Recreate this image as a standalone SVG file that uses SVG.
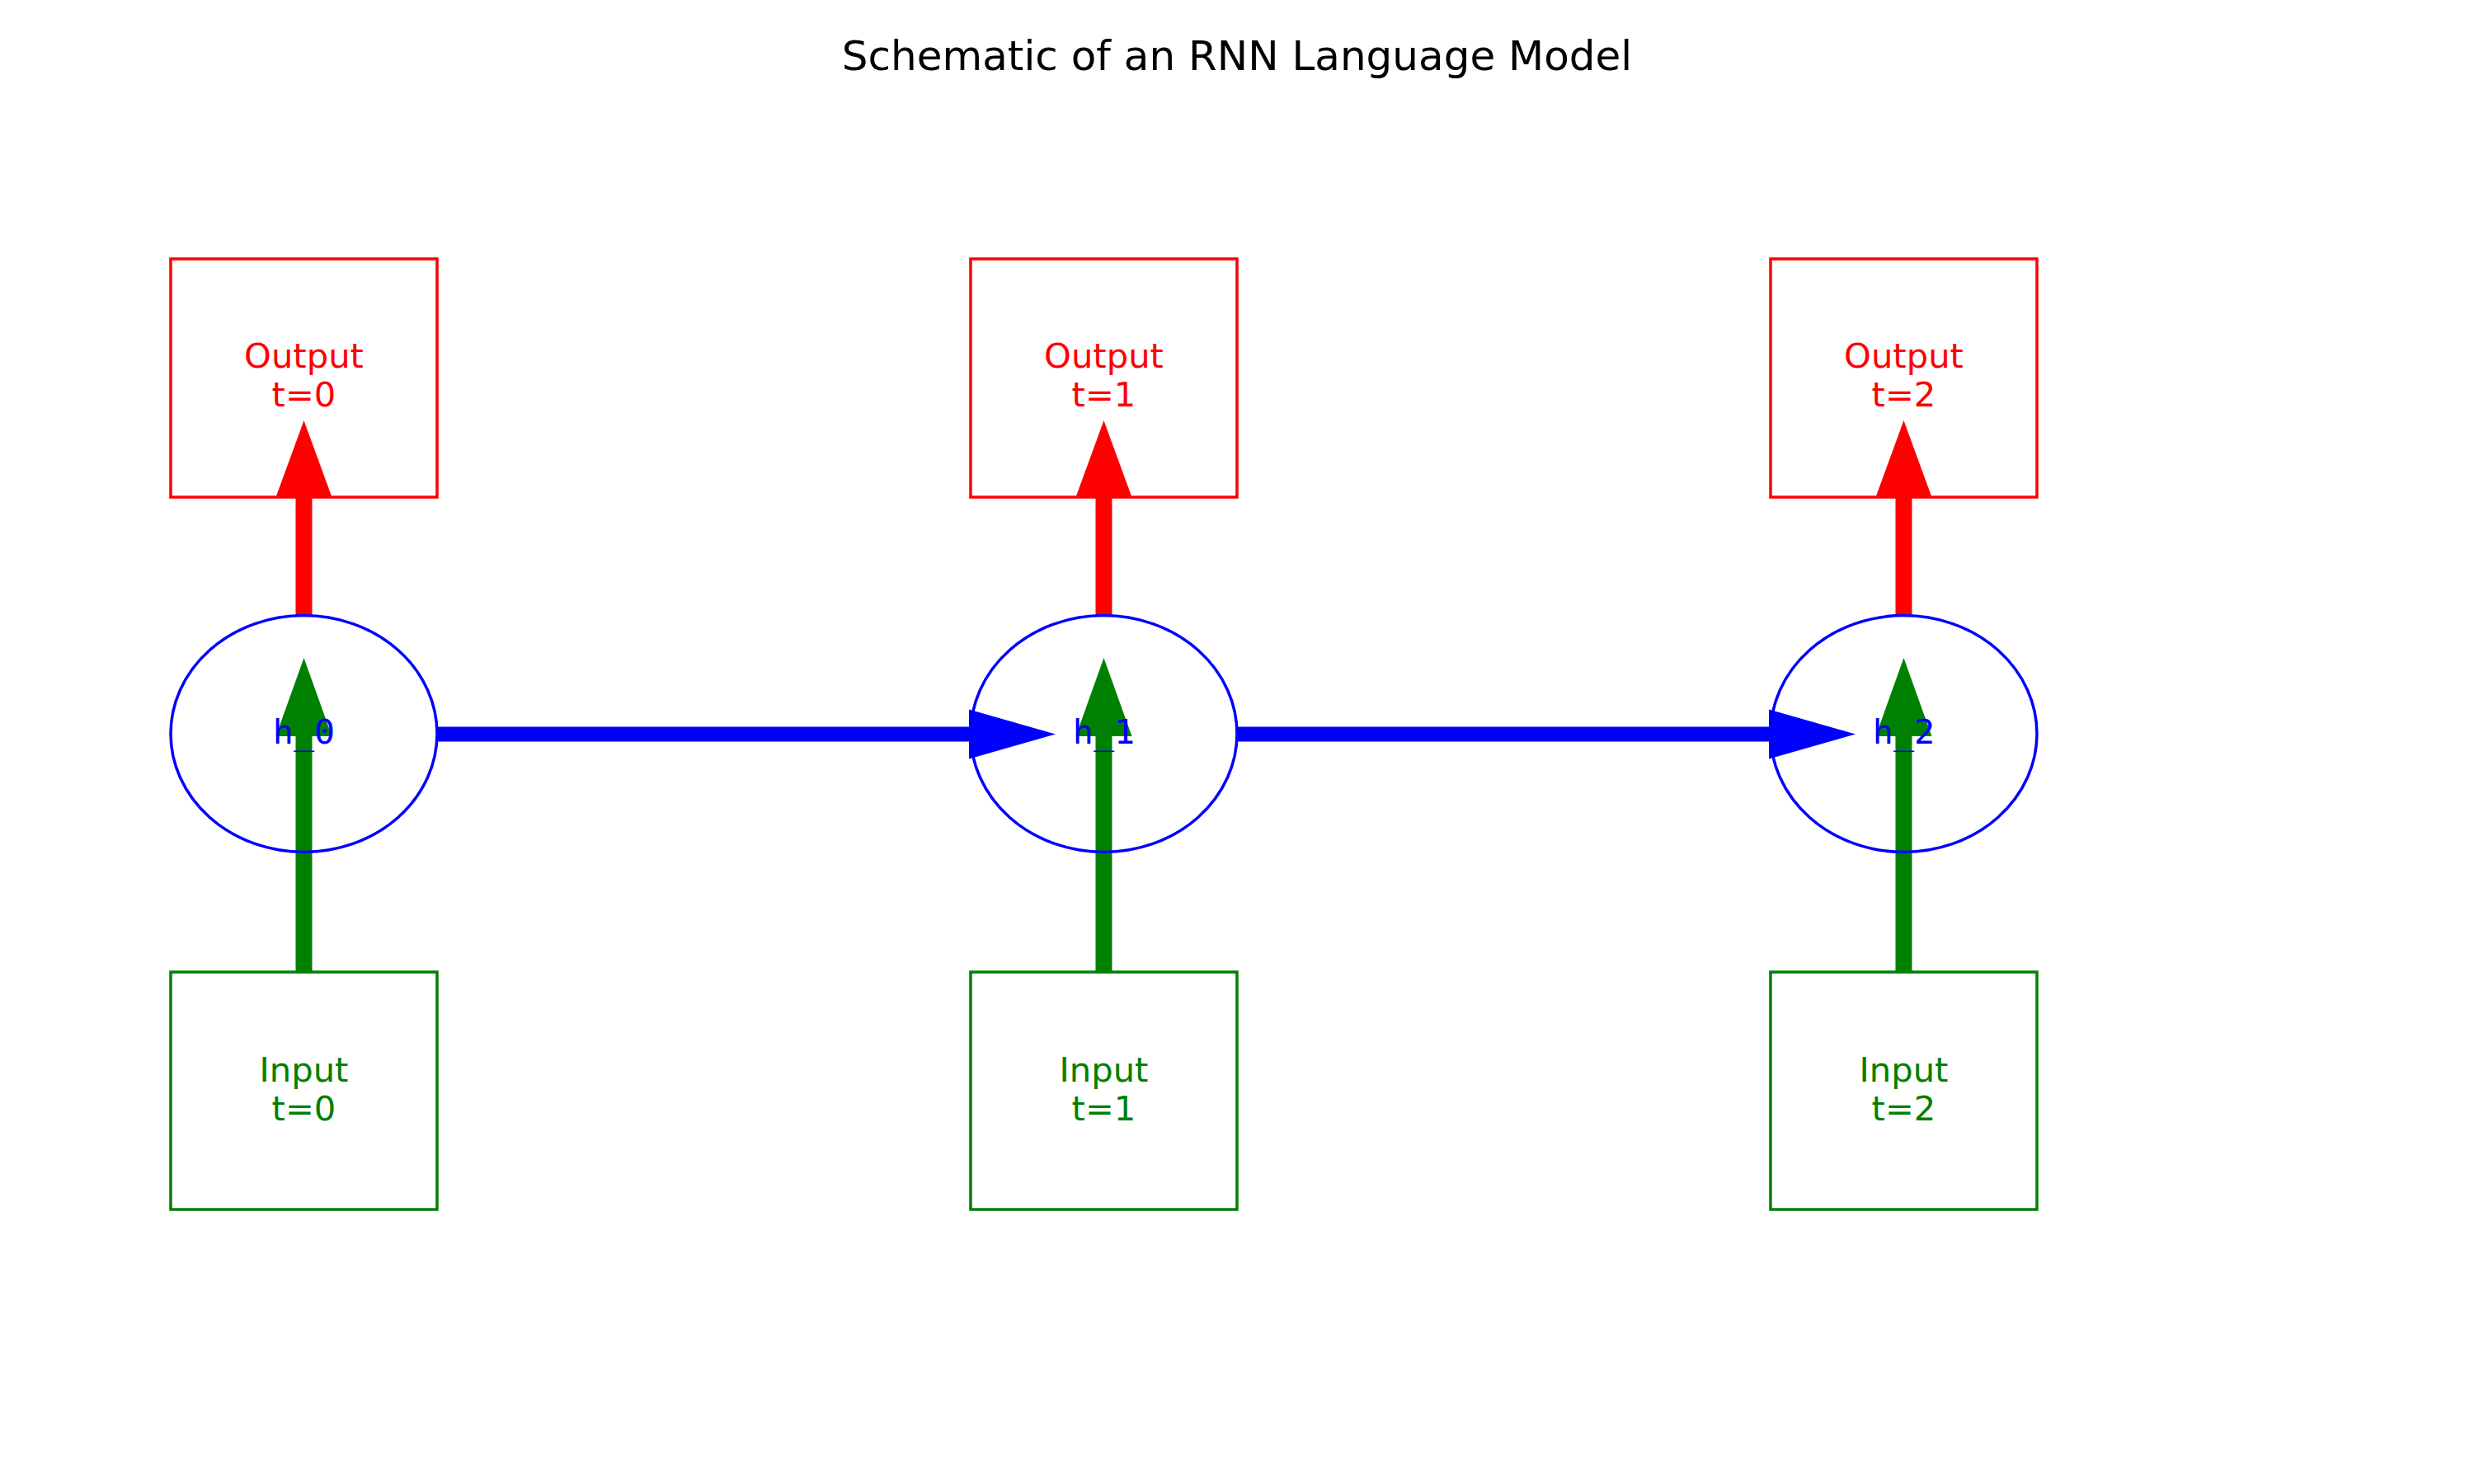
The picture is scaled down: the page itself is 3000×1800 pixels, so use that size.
<svg xmlns="http://www.w3.org/2000/svg" width="3000" height="1800" viewBox="0 0 3000 1800">
<style>
  .title { font-family: "DejaVu Sans", "Liberation Sans", sans-serif; font-size: 50px; fill: #000; text-anchor: middle; }
  .lbl { font-family: "DejaVu Sans", "Liberation Sans", sans-serif; font-size: 41.7px; text-anchor: middle; }
  .mono { font-family: "DejaVu Sans Mono", "Liberation Mono", monospace; font-size: 41.7px; text-anchor: middle; fill: #0000ff; }
  .out { fill: none; stroke: #ff0000; stroke-width: 3.5; }
  .inp { fill: none; stroke: #008000; stroke-width: 3.5; }
  .hid { fill: none; stroke: #0000ff; stroke-width: 3.5; }
  .ared { stroke: #ff0000; stroke-width: 20; }
  .agrn { stroke: #008000; stroke-width: 20; }
  .ablu { stroke: #0000ff; stroke-width: 18; }
</style>
<defs>
  <marker id="hr" markerUnits="userSpaceOnUse" orient="auto" refX="0" refY="0" markerWidth="120" markerHeight="80" viewBox="0 -40 120 80" overflow="visible">
    <path d="M0,-34 L93,0 L0,34 z" fill="#ff0000"/>
  </marker>
  <marker id="hg" markerUnits="userSpaceOnUse" orient="auto" refX="0" refY="0" markerWidth="120" markerHeight="80" viewBox="0 -40 120 80" overflow="visible">
    <path d="M0,-34 L95,0 L0,34 z" fill="#008000"/>
  </marker>
  <marker id="hb" markerUnits="userSpaceOnUse" orient="auto" refX="0" refY="0" markerWidth="120" markerHeight="80" viewBox="0 -40 120 80" overflow="visible">
    <path d="M0,-30 L105,0 L0,30 z" fill="#0000ff"/>
  </marker>
</defs>
<rect x="0" y="0" width="3000" height="1800" fill="#ffffff"/>
<text class="title" x="1500" y="85">Schematic of an RNN Language Model</text>

<g id="connectors">
  <line class="ared" x1="368.5" y1="746.5" x2="368.5" y2="603" marker-end="url(#hr)"/>
  <line class="ared" x1="1338.5" y1="746.5" x2="1338.5" y2="603" marker-end="url(#hr)"/>
  <line class="ared" x1="2308.5" y1="746.5" x2="2308.5" y2="603" marker-end="url(#hr)"/>
  <line class="agrn" x1="368.5" y1="1179" x2="368.5" y2="893" marker-end="url(#hg)"/>
  <line class="agrn" x1="1338.5" y1="1179" x2="1338.5" y2="893" marker-end="url(#hg)"/>
  <line class="agrn" x1="2308.5" y1="1179" x2="2308.5" y2="893" marker-end="url(#hg)"/>
  <line class="ablu" x1="530" y1="890.5" x2="1175" y2="890.5" marker-end="url(#hb)"/>
  <line class="ablu" x1="1500" y1="890.5" x2="2145" y2="890.5" marker-end="url(#hb)"/>
</g>

<g id="output0"><rect class="out" x="207" y="314" width="323" height="289"/><text class="lbl" fill="#ff0000" x="368.5" y="446">Output</text><text class="lbl" fill="#ff0000" x="368.5" y="493">t=0</text></g>
<g id="output1"><rect class="out" x="1177" y="314" width="323" height="289"/><text class="lbl" fill="#ff0000" x="1338.5" y="446">Output</text><text class="lbl" fill="#ff0000" x="1338.5" y="493">t=1</text></g>
<g id="output2"><rect class="out" x="2147" y="314" width="323" height="289"/><text class="lbl" fill="#ff0000" x="2308.5" y="446">Output</text><text class="lbl" fill="#ff0000" x="2308.5" y="493">t=2</text></g>

<g id="hidden0"><ellipse class="hid" cx="368.5" cy="890" rx="161.5" ry="143.5"/><text class="mono" x="368.5" y="902">h_0</text></g>
<g id="hidden1"><ellipse class="hid" cx="1338.5" cy="890" rx="161.5" ry="143.5"/><text class="mono" x="1338.5" y="902">h_1</text></g>
<g id="hidden2"><ellipse class="hid" cx="2308.5" cy="890" rx="161.5" ry="143.5"/><text class="mono" x="2308.5" y="902">h_2</text></g>

<g id="input0"><rect class="inp" x="207" y="1179" width="323" height="288"/><text class="lbl" fill="#008000" x="368.5" y="1312">Input</text><text class="lbl" fill="#008000" x="368.5" y="1359">t=0</text></g>
<g id="input1"><rect class="inp" x="1177" y="1179" width="323" height="288"/><text class="lbl" fill="#008000" x="1338.5" y="1312">Input</text><text class="lbl" fill="#008000" x="1338.5" y="1359">t=1</text></g>
<g id="input2"><rect class="inp" x="2147" y="1179" width="323" height="288"/><text class="lbl" fill="#008000" x="2308.5" y="1312">Input</text><text class="lbl" fill="#008000" x="2308.5" y="1359">t=2</text></g>
</svg>
